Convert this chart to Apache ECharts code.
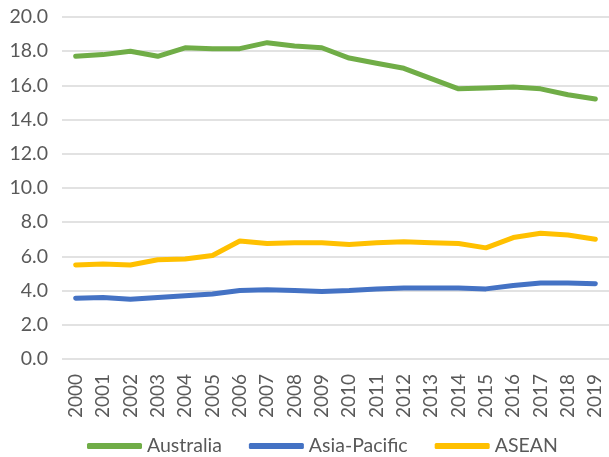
<!DOCTYPE html>
<html>
<head>
<meta charset="utf-8">
<script src="https://cdn.jsdelivr.net/npm/echarts@6/dist/echarts.min.js"></script>
<style>
  html, body { margin: 0; padding: 0; background: #fff; }
  #chart { width: 609px; height: 457px; }
</style>
</head>
<body>
<div id="chart"></div>
<script>
const years = ['2000', '2001', '2002', '2003', '2004', '2005', '2006', '2007', '2008', '2009',
  '2010', '2011', '2012', '2013', '2014', '2015', '2016', '2017', '2018', '2019']
const australia = [17.7, 17.8, 18.0, 17.7, 18.2, 18.15, 18.15, 18.5, 18.3, 18.2,
  17.6, 17.3, 17.0, 16.4, 15.8, 15.85, 15.9, 15.8, 15.45, 15.2]
const asiaPacific = [3.55, 3.6, 3.5, 3.6, 3.7, 3.8, 4.0, 4.05, 4.0, 3.95,
  4.0, 4.1, 4.15, 4.15, 4.15, 4.1, 4.3, 4.45, 4.45, 4.4]
const asean = [5.5, 5.55, 5.5, 5.8, 5.85, 6.05, 6.9, 6.75, 6.8, 6.8,
  6.7, 6.8, 6.85, 6.8, 6.75, 6.5, 7.1, 7.35, 7.25, 7.0]

const font = 'Lato, "Open Sans", sans-serif'

function lineSeries(name, data, color) {
  return {
    name: name,
    type: 'line',
    data: data,
    symbol: 'none',
    lineStyle: { color: color, width: 5, cap: 'round', join: 'round' },
    itemStyle: { color: color }
  }
}

let myChart = echarts.init(document.getElementById('chart'))
myChart.setOption({
  animation: false,
  grid: { left: 62, right: -4, top: 17, bottom: 98 },
  legend: {
    top: 431,
    left: 82,
    itemWidth: 55,
    itemHeight: 6,
    itemGap: 27,
    icon: 'roundRect',
    textStyle: { color: '#595959', fontSize: 19.5, fontFamily: font }
  },
  xAxis: {
    type: 'category',
    data: years,
    axisLine: { show: false },
    axisTick: { show: false },
    axisLabel: { rotate: 90, color: '#595959', fontSize: 19, fontFamily: font, margin: 15 }
  },
  yAxis: {
    type: 'value',
    min: 0,
    max: 20,
    interval: 2,
    axisLine: { show: false },
    axisTick: { show: false },
    splitLine: { lineStyle: { color: '#d9d9d9', width: 1.5 } },
    axisLabel: {
      color: '#595959', fontSize: 19.5, fontFamily: font, margin: 14,
      formatter: v => v.toFixed(1)
    }
  },
  series: [
    lineSeries('Australia', australia, '#70ad47'),
    lineSeries('Asia-Pacific', asiaPacific, '#4472c4'),
    lineSeries('ASEAN', asean, '#ffc000')
  ]
})
</script>
</body>
</html>
